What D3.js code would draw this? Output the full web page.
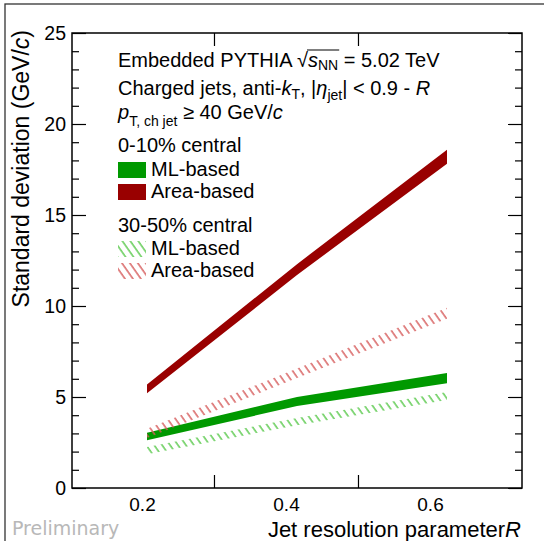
<!DOCTYPE html>
<html>
<head>
<meta charset="utf-8">
<script src="https://cdn.jsdelivr.net/npm/d3@7"></script>
<style>
  html, body { margin: 0; padding: 0; background: #fff; }
  svg { display: block; font-family: "Liberation Sans", Arial, Helvetica, sans-serif; }
</style>
</head>
<body>
<svg id="chart" width="544" height="541"></svg>
<script>
// ---- data ----
const R = [0.2, 0.4, 0.6];
const mlCentral      = [2.83, 4.75, 6.04];
const mlCentralErr   = [0.20, 0.25, 0.28];
const areaCentral    = [5.44, 12.0, 18.2];
const areaCentralErr = [0.24, 0.30, 0.38];
const mlSemi         = [2.05, 3.65, 5.05];
const mlSemiErr      = [0.20, 0.20, 0.22];
const areaSemi       = [3.00, 6.30, 9.60];
const areaSemiErr    = [0.25, 0.26, 0.30];
const yMajorTicks = [0, 5, 10, 15, 20, 25];
const xTickLabels = [0.2, 0.4, 0.6];
const xTickMarks  = [0.3, 0.5];

// ---- layout ----
const svg = d3.select("#chart");
const L = 72, Rt = 522, T = 33, B = 488;
const x = d3.scaleLinear().domain([0.1, 0.7]).range([L, Rt]);
const xAxisScale = d3.scaleLinear().domain([0.1028, 0.7278]).range([L, Rt]);
const y = d3.scaleLinear().domain([0, 25]).range([B, T]);

// outer frame
svg.append("rect").attr("x", 5).attr("y", 4).attr("width", 700).attr("height", 700)
  .attr("fill", "none").attr("stroke", "#333").attr("stroke-width", 1.3);

// patterns
const defs = svg.append("defs");
function hatch(id, color) {
  const p = defs.append("pattern").attr("id", id).attr("patternUnits", "userSpaceOnUse")
    .attr("width", 6.5).attr("height", 10).attr("patternTransform", "rotate(-35)");
  p.append("line").attr("x1", 1).attr("y1", -1).attr("x2", 1).attr("y2", 11)
    .attr("stroke", color).attr("stroke-width", 1.4);
}
hatch("hRed", "#d65a5a");
hatch("hGreen", "#58c94a");

const plot = svg.append("g");
function band(vals, errs) {
  return R.map((r, i) => ({ r, v: vals[i], e: errs[i] }));
}
const area = d3.area().x(d => x(d.r)).y0(d => y(d.v - d.e)).y1(d => y(d.v + d.e));

plot.append("path").attr("d", area(band(mlCentral, mlCentralErr))).attr("fill", "#009900");
plot.append("path").attr("d", area(band(areaCentral, areaCentralErr))).attr("fill", "#990000");
plot.append("path").attr("d", area(band(mlSemi, mlSemiErr))).attr("fill", "url(#hGreen)");
plot.append("path").attr("d", area(band(areaSemi, areaSemiErr))).attr("fill", "url(#hRed)");

// axes frame
svg.append("rect").attr("x", L).attr("y", T).attr("width", Rt - L).attr("height", B - T)
  .attr("fill", "none").attr("stroke", "#000").attr("stroke-width", 1.5);

// y ticks (left and right, inward)
const yMinor = d3.range(0, 26, 1).filter(v => v % 5 !== 0);
const axL = d3.axisRight(y).tickValues(yMajorTicks).tickSize(14).tickFormat("");
const axLm = d3.axisRight(y).tickValues(yMinor).tickSize(7).tickFormat("");
const axR = d3.axisLeft(y).tickValues(yMajorTicks).tickSize(14).tickFormat("");
const axRm = d3.axisLeft(y).tickValues(yMinor).tickSize(7).tickFormat("");
[[axL, L], [axLm, L], [axR, Rt], [axRm, Rt]].forEach(([a, px]) => {
  const g = svg.append("g").attr("transform", `translate(${px},0)`).call(a);
  g.select(".domain").remove();
  g.selectAll("line").attr("stroke", "#000").attr("stroke-width", 1.2);
});
// y tick labels
const yl = svg.append("g").attr("transform", `translate(${L},0)`)
  .call(d3.axisLeft(y).tickValues(yMajorTicks).tickSize(0).tickPadding(6).tickFormat(d3.format("d")));
yl.select(".domain").remove();
yl.selectAll("text").attr("font-size", 19.5).attr("fill", "#000").attr("font-family", "Liberation Sans, Arial, sans-serif");

// x ticks (bottom and top, inward)
const xb = svg.append("g").attr("transform", `translate(0,${B})`)
  .call(d3.axisTop(xAxisScale).tickValues(xTickMarks).tickSize(13).tickFormat(""));
const xt = svg.append("g").attr("transform", `translate(0,${T})`)
  .call(d3.axisBottom(xAxisScale).tickValues(xTickMarks).tickSize(13).tickFormat(""));
[xb, xt].forEach(g => { g.select(".domain").remove(); g.selectAll("line").attr("stroke", "#000").attr("stroke-width", 1.2); });
const xl = svg.append("g").attr("transform", `translate(0,${B})`)
  .call(d3.axisBottom(xAxisScale).tickValues(xTickLabels).tickSize(0).tickPadding(10).tickFormat(d3.format(".1f")));
xl.select(".domain").remove();
xl.selectAll("text").attr("font-size", 19).attr("fill", "#000").attr("font-family", "Liberation Sans, Arial, sans-serif");

// axis titles
const yt = svg.append("text").attr("transform", "translate(29,30) rotate(-90)")
  .attr("text-anchor", "end").attr("font-size", 23);
yt.append("tspan").text("Standard deviation (GeV/");
yt.append("tspan").attr("font-style", "italic").text("c");
yt.append("tspan").text(")");

const xtt = svg.append("text").attr("x", 521).attr("y", 537).attr("text-anchor", "end").attr("font-size", 22);
xtt.append("tspan").text("Jet resolution parameter");
xtt.append("tspan").attr("font-style", "italic").text("R");

svg.append("text").attr("x", 12).attr("y", 535).attr("font-size", 19).attr("fill", "#b8b8b8")
  .attr("font-family", "DejaVu Sans, sans-serif").text("Preliminary");

// ---- legend / labels ----
const fs = 20, tx = 118;
// line 1
const l1 = svg.append("text").attr("x", tx).attr("y", 67).attr("font-size", fs);
l1.append("tspan").text("Embedded PYTHIA ");
l1.append("tspan").text("\u221A");
l1.append("tspan").attr("font-style", "italic").text("s");
l1.append("tspan").attr("font-size", 14).attr("dy", 3).text("NN");
l1.append("tspan").attr("dy", -3).text(" = 5.02 TeV");
{
  const node = l1.node();
  const full = "Embedded PYTHIA ";
  const a = node.getSubStringLength(0, full.length + 1);
  const b = node.getSubStringLength(0, full.length + 4);
  svg.append("line").attr("x1", tx + a - 1).attr("x2", tx + b + 1).attr("y1", 50).attr("y2", 50)
    .attr("stroke", "#000").attr("stroke-width", 1.2);
}
// line 2
const l2 = svg.append("text").attr("x", tx).attr("y", 95).attr("font-size", fs);
l2.append("tspan").text("Charged jets, anti-");
l2.append("tspan").attr("font-style", "italic").text("k");
l2.append("tspan").attr("font-size", 14).attr("dy", 4).text("T");
l2.append("tspan").attr("dy", -4).text(", |");
l2.append("tspan").attr("font-style", "italic").text("\u03B7");
l2.append("tspan").attr("font-size", 14).attr("dy", 5).text("jet");
l2.append("tspan").attr("dy", -5).text("| < 0.9 - ");
l2.append("tspan").attr("font-style", "italic").text("R");
// line 3
const l3 = svg.append("text").attr("x", tx).attr("y", 119).attr("font-size", fs);
l3.append("tspan").attr("font-style", "italic").text("p");
l3.append("tspan").attr("font-size", 14).attr("dy", 7).text("T, ch jet");
l3.append("tspan").attr("dy", -7).text(" \u2265 40 GeV/");
l3.append("tspan").attr("font-style", "italic").text("c");

svg.append("text").attr("x", tx).attr("y", 152).attr("font-size", fs).text("0-10% central");
svg.append("text").attr("x", tx).attr("y", 232).attr("font-size", fs).text("30-50% central");

const legendItems = [
  { label: "ML-based", fill: "#009900", y: 162 },
  { label: "Area-based", fill: "#990000", y: 184 },
  { label: "ML-based", fill: "url(#hGreen)", y: 241 },
  { label: "Area-based", fill: "url(#hRed)", y: 263 }
];
legendItems.forEach(it => {
  svg.append("rect").attr("x", tx).attr("y", it.y).attr("width", 28).attr("height", 16).attr("fill", it.fill);
  svg.append("text").attr("x", tx + 33).attr("y", it.y + 14).attr("font-size", fs).text(it.label);
});
</script>
</body>
</html>
